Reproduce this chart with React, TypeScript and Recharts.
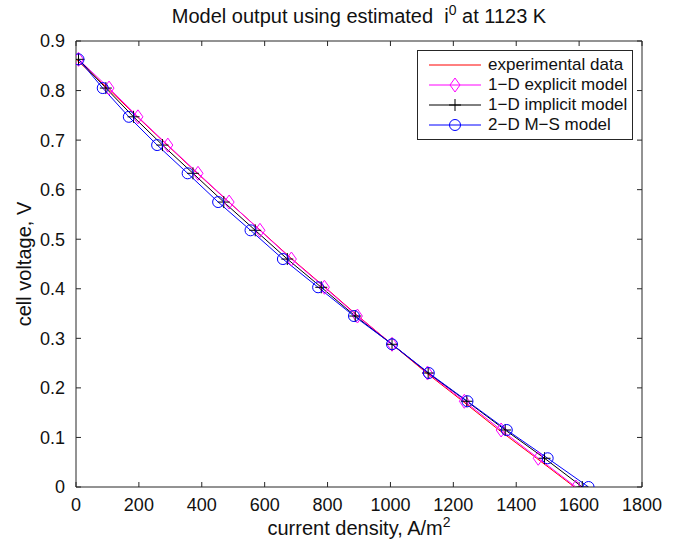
import * as React from "react"
import { LineChart, Line, XAxis, YAxis } from "recharts"

const voltage = [0.863, 0.805, 0.747, 0.69, 0.633, 0.575, 0.518, 0.46, 0.403, 0.345, 0.288, 0.23, 0.173, 0.115, 0.058, 0]
const currentExperimental = [0, 100, 195, 290, 386, 486, 586, 687, 792, 897, 1005, 1115, 1230, 1345, 1465, 1585]
const currentExplicit = [8, 105, 197, 292, 388, 487, 585, 685, 790, 895, 1005, 1118, 1235, 1352, 1470, 1590]
const currentImplicit = [8, 95, 183, 275, 372, 470, 570, 672, 780, 888, 1005, 1120, 1243, 1365, 1490, 1610]
const currentMS = [8, 85, 168, 258, 355, 452, 555, 658, 770, 884, 1005, 1122, 1245, 1370, 1500, 1630]

const xTicks = [0, 200, 400, 600, 800, 1000, 1200, 1400, 1600, 1800]
const yTicks = [0, 0.1, 0.2, 0.3, 0.4, 0.5, 0.6, 0.7, 0.8, 0.9]

const seriesNames = ["experimental data", "1\u2212D explicit model", "1\u2212D implicit model", "2\u2212D M\u2212S model"]
const seriesColors = ["#ff0000", "#ff00ff", "#000000", "#0000ff"]

const FONT = "'Liberation Sans', Arial, Helvetica, sans-serif"
const AXIS = "#262626"

const rows = (cur: number[]) => cur.map((x, k) => ({ i: x, v: voltage[k] }))

function Diamond({ cx, cy, color }: { cx: number; cy: number; color: string }) {
  return (
    <path
      d={`M${cx},${cy - 7} L${cx + 5},${cy} L${cx},${cy + 7} L${cx - 5},${cy} Z`}
      fill="none"
      stroke={color}
      strokeWidth={1}
    />
  )
}

function Plus({ cx, cy, color }: { cx: number; cy: number; color: string }) {
  return (
    <path d={`M${cx - 6},${cy} H${cx + 6} M${cx},${cy - 6} V${cy + 6}`} stroke={color} strokeWidth={1} fill="none" />
  )
}

function Ring({ cx, cy, color }: { cx: number; cy: number; color: string }) {
  return <circle cx={cx} cy={cy} r={5.5} fill="none" stroke={color} strokeWidth={1} />
}

const markers = [null, Diamond, Plus, Ring]

function makeDot(idx: number) {
  const M = markers[idx]
  return (p: any) => {
    if (!M || p.cx == null || p.cy == null) return <g key={`d${idx}-${p.index}`} />
    return (
      <g key={`d${idx}-${p.index}`}>
        <M cx={p.cx} cy={p.cy} color={seriesColors[idx]} />
      </g>
    )
  }
}

function LegendBox() {
  return (
    <div
      style={{
        position: "absolute",
        left: 417,
        top: 50,
        width: 216,
        height: 90,
        border: `1px solid ${AXIS}`,
        background: "#fff",
        fontFamily: FONT,
        fontSize: 17,
        color: "#111",
        boxSizing: "border-box",
      }}
    >
      {seriesNames.map((name, idx) => {
        const M = markers[idx]
        return (
          <div key={name} style={{ position: "absolute", left: 10, top: 4 + idx * 20, height: 20, display: "flex", alignItems: "center" }}>
            <svg width={54} height={20} style={{ display: "block" }}>
              <line x1={1} x2={53} y1={10} y2={10} stroke={seriesColors[idx]} strokeWidth={1} />
              {M && <M cx={27} cy={10} color={seriesColors[idx]} />}
            </svg>
            <span style={{ marginLeft: 6, whiteSpace: "nowrap" }}>{name}</span>
          </div>
        )
      })}
    </div>
  )
}

export default function App() {
  const series = [currentExperimental, currentExplicit, currentImplicit, currentMS]
  const tickStyle = { fontFamily: FONT, fontSize: 18, fill: "#111" }
  return (
    <div style={{ position: "absolute", left: 0, top: 0, width: 679, height: 551, background: "#fff" }}>
      <div
        style={{
          position: "absolute",
          left: 76,
          width: 566,
          top: 2,
          textAlign: "center",
          fontFamily: FONT,
          fontSize: 20,
          color: "#111",
        }}
      >
        Model output using estimated&nbsp; i<sup style={{ fontSize: 14 }}>0</sup> at 1123 K
      </div>
      <LineChart width={679} height={551} data={rows(currentMS)} margin={{ top: 40, right: 36, bottom: 0, left: 0 }}>
        <XAxis
          xAxisId="top"
          orientation="top"
          type="number"
          dataKey="i"
          domain={[0, 1800]}
          ticks={xTicks}
          height={1}
          tick={() => <g />}
          tickSize={-5}
          stroke={AXIS}
          allowDataOverflow
        />
        <YAxis
          yAxisId="right"
          orientation="right"
          type="number"
          domain={[0, 0.9]}
          ticks={yTicks}
          width={1}
          tick={() => <g />}
          tickSize={-5}
          stroke={AXIS}
          allowDataOverflow
        />
        <XAxis
          type="number"
          dataKey="i"
          domain={[0, 1800]}
          ticks={xTicks}
          height={64}
          tickSize={-5}
          tickMargin={16}
          tick={tickStyle}
          stroke={AXIS}
          allowDataOverflow
        />
        <YAxis
          type="number"
          domain={[0, 0.9]}
          ticks={yTicks}
          width={76}
          tickSize={-5}
          tickMargin={16}
          tick={tickStyle}
          tickFormatter={(v: number) => String(Math.round(v * 10) / 10)}
          stroke={AXIS}
          allowDataOverflow
        />
        {series.map((cur, idx) => (
          <Line
            key={seriesNames[idx]}
            data={rows(cur)}
            dataKey="v"
            name={seriesNames[idx]}
            stroke={seriesColors[idx]}
            strokeWidth={1}
            dot={makeDot(idx)}
            activeDot={false}
            isAnimationActive={false}
          />
        ))}
      </LineChart>
      <LegendBox />
      <div
        style={{
          position: "absolute",
          left: 76,
          width: 566,
          top: 514,
          textAlign: "center",
          fontFamily: FONT,
          fontSize: 20,
          color: "#111",
        }}
      >
        current density, A/m<sup style={{ fontSize: 14 }}>2</sup>
      </div>
      <div
        style={{
          position: "absolute",
          left: 24,
          top: 264,
          transform: "translate(-50%, -50%) rotate(-90deg)",
          fontFamily: FONT,
          fontSize: 20,
          color: "#111",
          whiteSpace: "nowrap",
        }}
      >
        cell voltage, V
      </div>
    </div>
  )
}
